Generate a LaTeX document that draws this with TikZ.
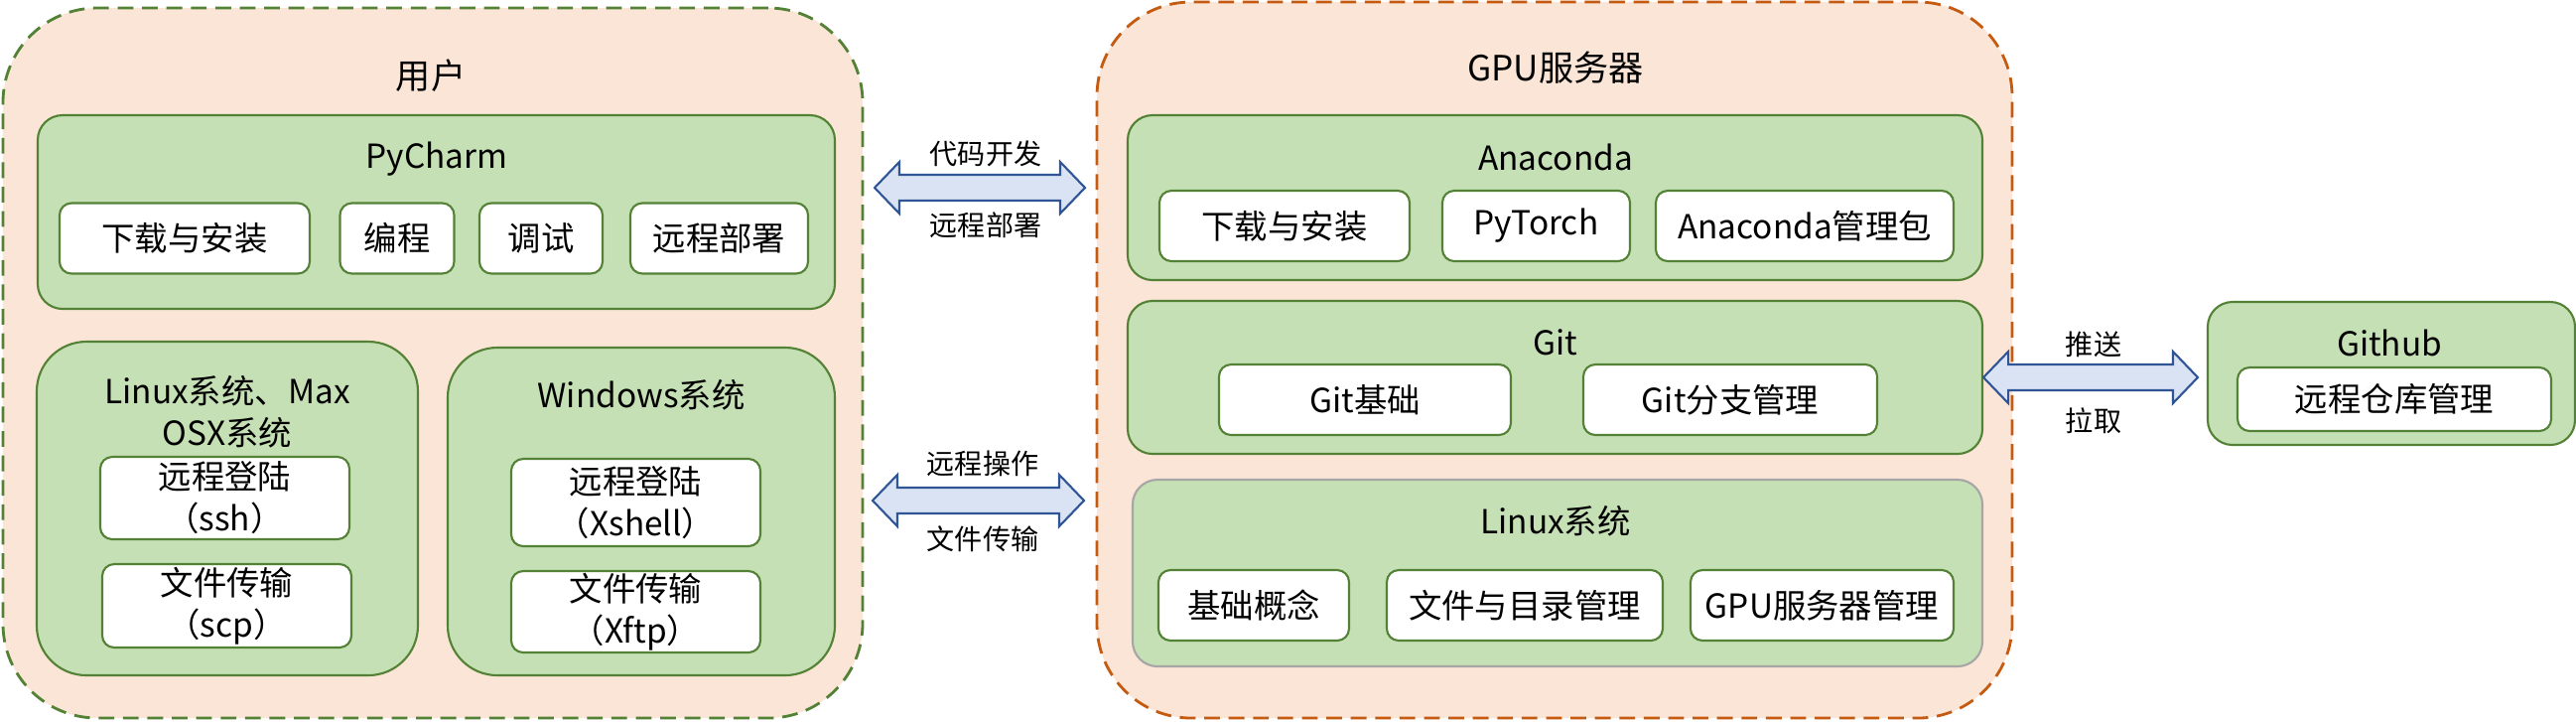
\documentclass[tikz,border=0pt]{standalone}
\usepackage{fontspec}
\setmainfont{Noto Sans CJK SC}
\usetikzlibrary{calc}

\definecolor{outerfill}{HTML}{FBE5D6}
\definecolor{userline}{HTML}{538135}
\definecolor{gpuline}{HTML}{C55A11}
\definecolor{groupfill}{HTML}{C5E0B4}
\definecolor{groupline}{HTML}{538135}
\definecolor{arrowfill}{HTML}{DAE3F3}
\definecolor{arrowline}{HTML}{2F5597}

% block arrow with two heads, drawn between two named points
\newcommand{\biarrow}[2]{%
  \draw[arrowbox] let \p1=(#1), \p2=(#2) in
    (\x1,\y1) -- ++(0.25,0.26) -- ++(0,-0.13) -- (\x2-0.25cm,\y1+0.13cm)
    -- ++(0,0.13) -- (\x2,\y1) -- ++(-0.25,-0.26) -- ++(0,0.13)
    -- (\x1+0.25cm,\y1-0.13cm) -- ++(0,-0.13) -- cycle;}

\begin{document}
\begin{tikzpicture}[
    outer/.style={draw, rounded corners=0.95cm, fill=outerfill, line width=0.8pt, dash pattern=on 4.5pt off 2.5pt, inner sep=0},
    group/.style={draw=groupline, fill=groupfill, rounded corners=0.25cm, line width=0.6pt, inner sep=0},
    item/.style={draw=groupline, fill=white, rounded corners=0.12cm, line width=0.6pt, inner sep=0, align=center, font=\fontsize{9.5}{12}\selectfont},
    title/.style={align=center, font=\fontsize{9.5}{12}\selectfont},
    lbl/.style={font=\fontsize{8}{10}\selectfont},
    arrowbox/.style={draw=arrowline, fill=arrowfill, line width=0.6pt}
]
\useasboundingbox (0,0) rectangle (25.95,-7.26);

% Users side
\node[outer, draw=userline, minimum width=8.66cm, minimum height=7.15cm] (user) at (4.36,-3.655) {};
\node[title, font=\fontsize{10}{12}\selectfont] (usertitle) at (4.34,-0.76) {用户};

\node[group, minimum width=8.03cm, minimum height=1.95cm] (pycharm) at (4.395,-2.135) {};
\node[title] (pycharmtitle) at (4.40,-1.60) {PyCharm};
\node[item, minimum width=2.52cm, minimum height=0.71cm] (pcinstall) at (1.86,-2.40) {下载与安装};
\node[item, minimum width=1.15cm, minimum height=0.71cm] (pcedit) at (4.00,-2.40) {编程};
\node[item, minimum width=1.24cm, minimum height=0.71cm] (pcdebug) at (5.45,-2.40) {调试};
\node[item, minimum width=1.79cm, minimum height=0.71cm] (pcdeploy) at (7.245,-2.40) {远程部署};

\node[group, rounded corners=0.5cm, minimum width=3.84cm, minimum height=3.36cm] (unix) at (2.29,-5.12) {};
\node[title] (unixtitle) at (2.29,-4.15) {Linux系统、Max\\OSX系统};
\node[item, minimum width=2.51cm, minimum height=0.83cm] (ssh) at (2.265,-5.015) {远程登陆\\（ssh）};
\node[item, minimum width=2.51cm, minimum height=0.84cm] (scp) at (2.285,-6.10) {文件传输\\（scp）};

\node[group, rounded corners=0.5cm, minimum width=3.90cm, minimum height=3.30cm] (windows) at (6.46,-5.15) {};
\node[title] (windowstitle) at (6.46,-3.98) {Windows系统};
\node[item, minimum width=2.51cm, minimum height=0.88cm] (xshell) at (6.405,-5.06) {远程登陆\\（Xshell）};
\node[item, minimum width=2.51cm, minimum height=0.82cm] (xftp) at (6.405,-6.16) {文件传输\\（Xftp）};

% GPU server side
\node[outer, draw=gpuline, minimum width=9.22cm, minimum height=7.21cm] (gpu) at (15.66,-3.625) {};
\node[title, font=\fontsize{10}{12}\selectfont] (gputitle) at (15.67,-0.68) {GPU服务器};

\node[group, minimum width=8.61cm, minimum height=1.66cm] (anaconda) at (15.665,-1.99) {};
\node[title] (anacondatitle) at (15.67,-1.58) {Anaconda};
\node[item, minimum width=2.52cm, minimum height=0.71cm] (acinstall) at (12.94,-2.275) {下载与安装};
\node[item, minimum width=1.89cm, minimum height=0.71cm] (pytorch) at (15.475,-2.275) {PyTorch};
\node[item, minimum width=3.00cm, minimum height=0.71cm] (acpkg) at (18.18,-2.275) {Anaconda管理包};

\node[group, minimum width=8.61cm, minimum height=1.54cm] (git) at (15.665,-3.80) {};
\node[title] (gittitle) at (15.67,-3.45) {Git};
\node[item, minimum width=2.94cm, minimum height=0.71cm] (gitbase) at (13.75,-4.025) {Git基础};
\node[item, minimum width=2.96cm, minimum height=0.71cm] (gitbranch) at (17.43,-4.025) {Git分支管理};

\node[group, draw=gray!70, minimum width=8.56cm, minimum height=1.88cm] (linux) at (15.69,-5.77) {};
\node[title] (linuxtitle) at (15.67,-5.25) {Linux系统};
\node[item, minimum width=1.92cm, minimum height=0.71cm] (concept) at (12.63,-6.095) {基础概念};
\node[item, minimum width=2.78cm, minimum height=0.71cm] (filedir) at (15.36,-6.095) {文件与目录管理};
\node[item, minimum width=2.65cm, minimum height=0.71cm] (gpumgr) at (18.355,-6.095) {GPU服务器管理};

% Github
\node[group, minimum width=3.70cm, minimum height=1.44cm] (github) at (24.09,-3.76) {};
\node[title] (githubtitle) at (24.07,-3.45) {Github};
\node[item, minimum width=3.16cm, minimum height=0.64cm] (repo) at (24.12,-4.02) {远程仓库管理};

% Connections
\coordinate (devL) at (8.81,-1.89);
\coordinate (devR) at (10.93,-1.89);
\coordinate (opsL) at (8.79,-5.04);
\coordinate (opsR) at (10.92,-5.04);
\coordinate (hubR) at (22.14,-3.81);
\biarrow{devL}{devR}
\biarrow{opsL}{opsR}
\biarrow{git.east}{hubR}

% Labels
\node[lbl] (devtop) at (9.93,-1.55) {代码开发};
\node[lbl] (devbot) at (9.93,-2.27) {远程部署};
\node[lbl] (opstop) at (9.90,-4.67) {远程操作};
\node[lbl] (opsbot) at (9.90,-5.43) {文件传输};
\node[lbl] (push) at (21.09,-3.47) {推送};
\node[lbl] (pull) at (21.09,-4.24) {拉取};

\end{tikzpicture}
\end{document}
